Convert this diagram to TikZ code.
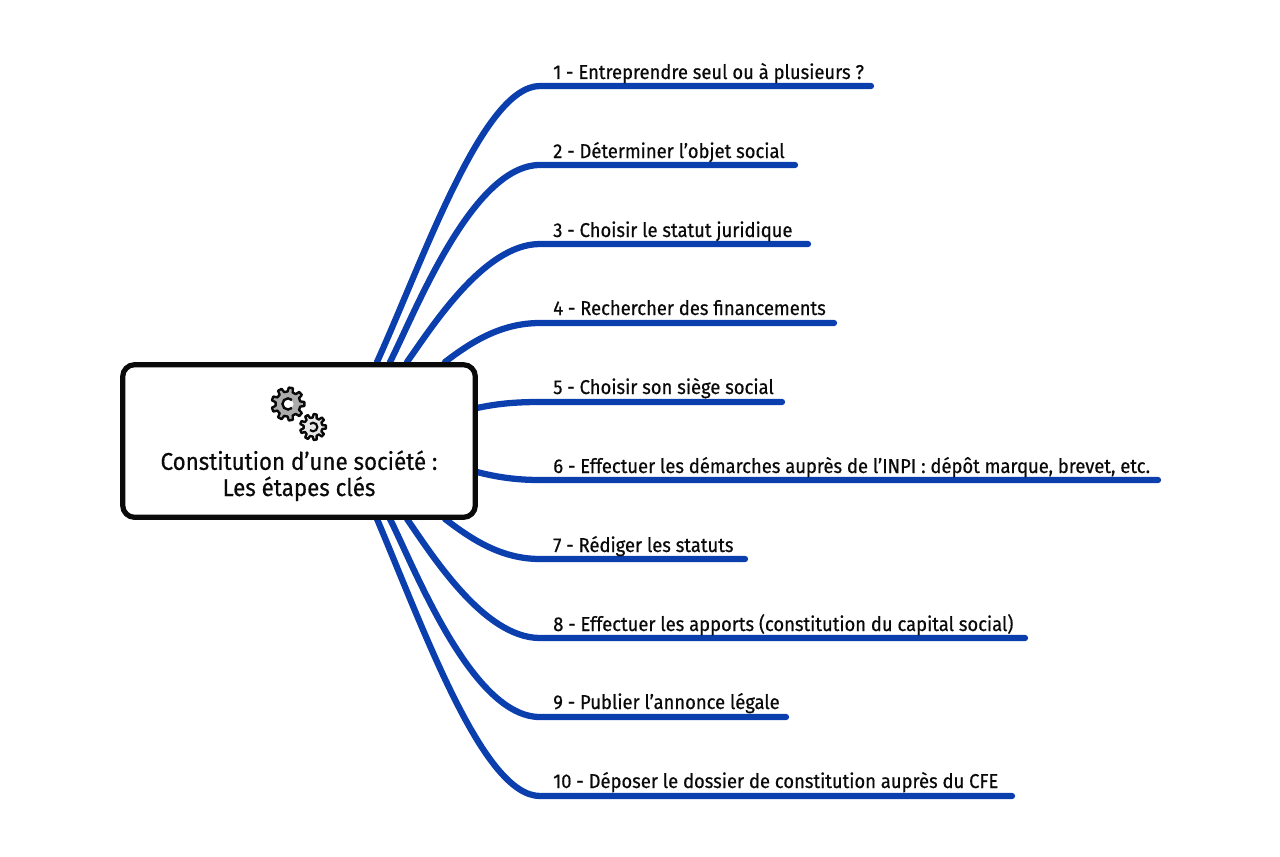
\documentclass[tikz,border=0pt]{standalone}
\usepackage{fontspec}
\setmainfont{Fira Sans}[FakeStretch=0.92,FakeBold=0.55]
\usetikzlibrary{backgrounds,calc}
\definecolor{branch}{HTML}{0C3FAE}
\definecolor{ink}{HTML}{0A0A0A}
\tikzset{
  branchline/.style={draw=branch,line width=4.7pt,line cap=round,line join=round},
  steplabel/.style={anchor=base west,inner sep=0pt,text=ink,font=\fontsize{15pt}{16pt}\selectfont},
  hubbox/.style={draw=ink,line width=3.9pt,rounded corners=9pt,fill=white,minimum width=264.5pt,minimum height=114.5pt,inner sep=0pt},
  hubtitle/.style={align=center,inner sep=0pt,text=ink,font=\fontsize{18.2pt}{19.6pt}\selectfont},
  gearline/.style={draw=ink,line width=1.8pt,line join=round}
}
\newcommand{\gearshape}[5]{% cx cy router rinner fill
  \draw[gearline,fill=#5] \foreach \i in {0,...,8}{
    {\ifnum\i=0 ($(#1,#2)+(\i*40-12:#4)$)\else -- ($(#1,#2)+(\i*40-12:#4)$)\fi}
    -- ($(#1,#2)+(\i*40-7:#3)$) -- ($(#1,#2)+(\i*40+7:#3)$) -- ($(#1,#2)+(\i*40+12:#4)$)
  } -- cycle;
}
\begin{document}
\begin{tikzpicture}[x=0.75pt,y=-0.75pt]
\useasboundingbox (0,0) rectangle (1280,856);
\node[hubbox] (hub) at (299,441) {};
\node[hubtitle,anchor=base] (title) at (299,496) {Constitution d’une société :\\Les étapes clés};
% gears
\gearshape{288}{404}{16.5}{12.5}{gray!65}
\fill[white] (288,404) circle (5.5);
\draw[ink,line width=1.8pt] (292,400) arc[start angle=-45,end angle=-315,radius=5.6];
\gearshape{313}{427}{13}{9.5}{gray!18}
\draw[ink,line width=1.6pt] (310,424) arc[start angle=-135,end angle=135,radius=4.3];
% labels
\foreach \n/\x/\y/\t in {
 1/553/79/{1 - Entreprendre seul ou à plusieurs ?},
 2/553/158/{2 - Déterminer l’objet social},
 3/553/237/{3 - Choisir le statut juridique},
 4/553/315/{4 - Rechercher des financements},
 5/553/394/{5 - Choisir son siège social},
 6/553/473/{6 - Effectuer les démarches auprès de l’INPI : dépôt marque, brevet, etc.},
 7/553/552/{7 - Rédiger les statuts},
 8/553/631/{8 - Effectuer les apports (constitution du capital social)},
 9/553/709/{9 - Publier l’annonce légale},
 10/553/788/{10 - Déposer le dossier de constitution auprès du CFE}}
 {\node[steplabel] (label\n) at (\x,\y) {\t};}
% branch coordinates
\foreach \n/\sx/\sy/\ex/\ey/\bx in {
 1/377/362/871/86/540, 2/390/362/795/165/540, 3/407/362/808/244/540, 4/445/362/834/323/540,
 5/477/408/782/402/540, 6/477/472/1158/480/540,
 7/445/519/745/559/540, 8/407/519/1025/638/540, 9/390/519/786/717/540, 10/377/519/1012/796/540}
 {\coordinate (s\n) at (\sx,\sy); \coordinate (e\n) at (\ex,\ey); \coordinate (b\n) at (\bx,\ey);}
\begin{scope}[on background layer]
\draw[branchline] (s1) .. controls (424,258) and (483,86) .. (b1) -- (e1);
\draw[branchline] (s2) .. controls (415,313) and (472,165) .. (b2) -- (e2);
\draw[branchline] (s3) .. controls (432,327) and (484,244) .. (b3) -- (e3);
\draw[branchline] (s4) .. controls (470,343) and (500,323) .. (b4) -- (e4);
\draw[branchline] (s5) .. controls (500,403) and (520,402) .. (b5) -- (e5);
\draw[branchline] (s6) .. controls (500,478) and (520,480) .. (b6) -- (e6);
\draw[branchline] (s7) .. controls (470,538) and (500,559) .. (b7) -- (e7);
\draw[branchline] (s8) .. controls (432,555) and (484,638) .. (b8) -- (e8);
\draw[branchline] (s9) .. controls (415,569) and (472,717) .. (b9) -- (e9);
\draw[branchline] (s10) .. controls (424,630) and (483,796) .. (b10) -- (e10);
\end{scope}
\end{tikzpicture}
\end{document}
